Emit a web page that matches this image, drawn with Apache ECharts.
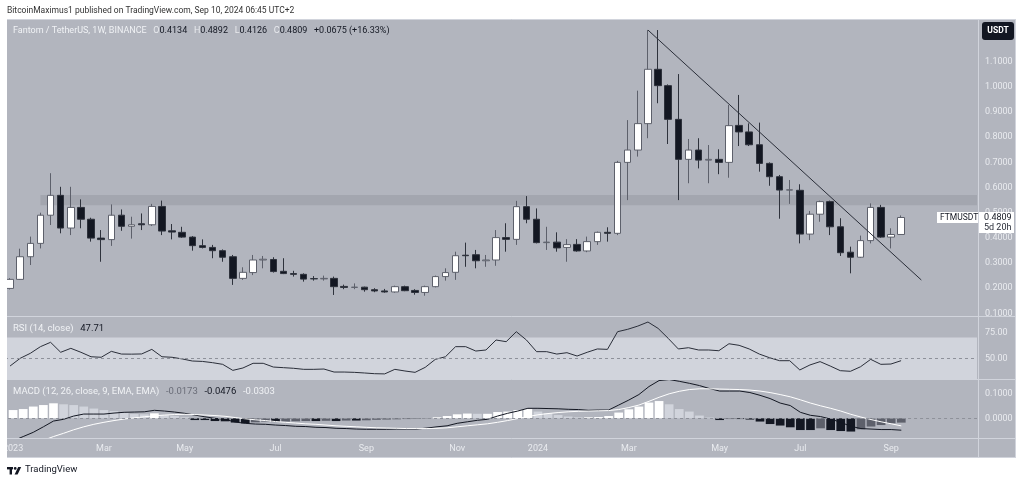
<!DOCTYPE html>
<html><head><meta charset="utf-8">
<script src="https://cdn.jsdelivr.net/npm/echarts@6/dist/echarts.min.js"></script>
<style>html,body{margin:0;padding:0;background:#fff}#c{width:1024px;height:483px}</style>
</head><body><div id="c"></div>
<script>
const weeks = [
'2023-01-02','2023-01-09','2023-01-16','2023-01-23','2023-01-30',
'2023-02-06','2023-02-13','2023-02-20','2023-02-27',
'2023-03-06','2023-03-13','2023-03-20','2023-03-27',
'2023-04-03','2023-04-10','2023-04-17','2023-04-24',
'2023-05-01','2023-05-08','2023-05-15','2023-05-22','2023-05-29',
'2023-06-05','2023-06-12','2023-06-19','2023-06-26',
'2023-07-03','2023-07-10','2023-07-17','2023-07-24','2023-07-31',
'2023-08-07','2023-08-14','2023-08-21','2023-08-28',
'2023-09-04','2023-09-11','2023-09-18','2023-09-25',
'2023-10-02','2023-10-09','2023-10-16','2023-10-23','2023-10-30',
'2023-11-06','2023-11-13','2023-11-20','2023-11-27',
'2023-12-04','2023-12-11','2023-12-18','2023-12-25',
'2024-01-01','2024-01-08','2024-01-15','2024-01-22','2024-01-29',
'2024-02-05','2024-02-12','2024-02-19','2024-02-26',
'2024-03-04','2024-03-11','2024-03-18','2024-03-25',
'2024-04-01','2024-04-08','2024-04-15','2024-04-22','2024-04-29',
'2024-05-06','2024-05-13','2024-05-20','2024-05-27',
'2024-06-03','2024-06-10','2024-06-17','2024-06-24',
'2024-07-01','2024-07-08','2024-07-15','2024-07-22','2024-07-29',
'2024-08-05','2024-08-12','2024-08-19','2024-08-26',
'2024-09-02','2024-09-09',
'2024-09-16','2024-09-23','2024-09-30','2024-10-07','2024-10-14','2024-10-21','2024-10-28'];

const opens = [0.199,0.235,0.325,0.378,0.490,0.569,0.439,0.521,0.474,0.399,
0.393,0.490,0.446,0.456,0.452,0.525,0.428,0.422,0.403,0.369,
0.362,0.349,0.325,0.239,0.262,0.312,0.314,0.267,0.258,0.255,
0.238,0.237,0.239,0.207,0.203,0.204,0.194,0.189,0.185,0.206,
0.191,0.183,0.206,0.246,0.263,0.331,0.333,0.309,0.312,0.401,
0.394,0.524,0.474,0.381,0.383,0.362,0.374,0.348,0.385,0.422,
0.418,0.700,0.749,0.854,1.070,1.005,0.871,0.712,0.749,0.709,
0.712,0.700,0.847,0.821,0.770,0.696,0.643,0.590,0.589,0.415,
0.494,0.544,0.444,0.343,0.323,0.389,0.521,0.403,0.4134];
const closes = [0.235,0.325,0.378,0.490,0.569,0.439,0.521,0.474,0.399,0.393,
0.490,0.446,0.452,0.452,0.525,0.427,0.423,0.403,0.369,0.362,
0.349,0.323,0.239,0.263,0.312,0.315,0.266,0.258,0.255,0.236,
0.237,0.239,0.206,0.203,0.204,0.194,0.189,0.185,0.206,0.190,
0.183,0.206,0.246,0.262,0.329,0.329,0.309,0.312,0.401,0.394,
0.524,0.474,0.381,0.383,0.360,0.373,0.348,0.385,0.422,0.418,
0.700,0.749,0.854,1.070,1.005,0.871,0.712,0.749,0.709,0.712,
0.700,0.846,0.821,0.770,0.696,0.643,0.590,0.591,0.415,0.494,
0.544,0.444,0.341,0.323,0.389,0.521,0.403,0.4134,0.4809];
const lows = [0.195,0.233,0.292,0.358,0.451,0.418,0.411,0.438,0.385,0.305,
0.368,0.428,0.397,0.431,0.447,0.411,0.394,0.400,0.349,0.358,
0.319,0.305,0.213,0.233,0.252,0.279,0.262,0.256,0.246,0.226,
0.230,0.230,0.173,0.196,0.196,0.186,0.184,0.182,0.182,0.188,
0.174,0.170,0.203,0.230,0.233,0.285,0.279,0.285,0.289,0.345,
0.372,0.458,0.378,0.352,0.345,0.305,0.345,0.343,0.372,0.385,
0.411,0.550,0.723,0.796,0.935,0.773,0.550,0.617,0.676,0.617,
0.653,0.639,0.765,0.765,0.663,0.607,0.476,0.535,0.378,0.391,
0.464,0.411,0.328,0.259,0.320,0.378,0.400,0.358,0.4126];
const highs = [0.240,0.357,0.405,0.500,0.657,0.603,0.603,0.553,0.480,0.431,
0.533,0.513,0.484,0.497,0.535,0.548,0.455,0.444,0.407,0.394,
0.372,0.354,0.332,0.283,0.332,0.328,0.323,0.319,0.269,0.259,
0.248,0.250,0.246,0.214,0.219,0.206,0.200,0.197,0.210,0.210,
0.196,0.210,0.250,0.279,0.345,0.381,0.352,0.332,0.431,0.458,
0.547,0.566,0.517,0.444,0.422,0.395,0.395,0.405,0.425,0.442,
0.706,0.868,0.985,1.226,1.226,1.010,1.051,0.793,0.796,0.769,
0.752,0.928,0.968,0.855,0.858,0.700,0.650,0.630,0.613,0.507,
0.548,0.548,0.478,0.365,0.409,0.537,0.531,0.438,0.4892];

const rsi = [42.6,50.0,54.8,61.2,65.4,55.8,59.6,55.8,51.5,51.0,
56.7,54.1,54.0,54.2,58.6,51.5,51.0,49.4,47.4,47.0,
45.8,44.2,38.4,40.7,45.2,45.2,41.6,41.0,40.4,39.4,
39.4,39.7,36.8,36.8,36.5,35.9,35.2,35.0,39.4,37.8,
36.5,41.3,49.0,51.5,61.2,61.2,57.0,58.0,67.6,66.0,
75.6,67.6,56.4,56.4,54.1,55.4,52.2,55.8,59.0,58.6,
75.6,77.9,81.0,84.9,78.8,69.2,59.0,60.2,58.0,58.0,
57.3,64.0,62.5,59.0,54.1,50.6,47.7,47.7,38.8,43.6,
46.8,42.6,38.1,37.5,41.9,49.0,44.2,44.5,47.71];

const macd = [-0.090,-0.073,-0.056,-0.034,-0.011,-0.004,0.009,0.017,0.017,0.017,
0.021,0.024,0.025,0.026,0.032,0.029,0.025,0.020,0.013,0.006,
0.000,-0.004,-0.015,-0.020,-0.023,-0.024,-0.027,-0.029,-0.032,-0.033,
-0.036,-0.037,-0.040,-0.041,-0.043,-0.044,-0.044,-0.044,-0.043,-0.043,
-0.043,-0.039,-0.034,-0.030,-0.020,-0.014,-0.008,-0.004,0.009,0.020,
0.029,0.040,0.040,0.039,0.038,0.036,0.035,0.032,0.033,0.033,
0.053,0.073,0.095,0.127,0.151,0.155,0.148,0.140,0.131,0.119,
0.109,0.109,0.109,0.103,0.092,0.079,0.061,0.051,0.024,0.012,
0.007,-0.003,-0.016,-0.032,-0.041,-0.043,-0.045,-0.045,-0.0476];
const signal = [-0.123,-0.113,-0.102,-0.088,-0.073,-0.060,-0.046,-0.034,-0.024,-0.016,
-0.009,-0.003,0.002,0.006,0.010,0.013,0.015,0.016,0.015,0.013,
0.011,0.008,0.003,-0.002,-0.006,-0.009,-0.013,-0.016,-0.019,-0.022,
-0.024,-0.027,-0.030,-0.032,-0.034,-0.036,-0.038,-0.039,-0.040,-0.041,
-0.041,-0.041,-0.040,-0.038,-0.034,-0.030,-0.026,-0.022,-0.016,-0.009,
-0.001,0.007,0.014,0.019,0.023,0.026,0.028,0.029,0.030,0.031,
0.035,0.043,0.053,0.068,0.084,0.098,0.108,0.115,0.118,0.118,
0.117,0.116,0.115,0.113,0.109,0.103,0.095,0.086,0.074,0.061,
0.050,0.040,0.029,0.016,0.005,-0.005,-0.014,-0.022,-0.0303];
const hist = [0.033,0.037,0.047,0.053,0.060,0.056,0.053,0.047,0.039,0.033,
0.029,0.023,0.017,0.016,0.020,0.013,0.009,0.004,-0.007,-0.007,
-0.011,-0.012,-0.017,-0.020,-0.016,-0.013,-0.015,-0.013,-0.012,-0.011,
-0.011,-0.010,-0.011,-0.009,-0.009,-0.008,-0.006,-0.005,-0.004,-0.003,
-0.002,-0.001,0.004,0.009,0.016,0.019,0.018,0.018,0.025,0.027,
0.033,0.037,0.027,0.020,0.013,0.007,0.004,0.004,0.005,0.009,
0.023,0.036,0.047,0.063,0.069,0.056,0.037,0.027,0.011,0.003,
-0.007,-0.003,-0.003,-0.005,-0.013,-0.023,-0.029,-0.036,-0.047,-0.047,
-0.040,-0.047,-0.051,-0.053,-0.044,-0.033,-0.027,-0.020,-0.0173];

const priceTicks = [0.1,0.2,0.3,0.4,0.5,0.6,0.7,0.8,0.9,1.0,1.1];
const rsiTicks = [50,75];
const macdTicks = [0,0.1];
const timeTickDates = ['2023-01-02','2023-03-06','2023-05-01','2023-07-03','2023-09-04','2023-11-06','2024-01-01','2024-03-04','2024-05-06','2024-07-01','2024-09-02'];
const timeTickLabels = ['2023','Mar','May','Jul','Sep','Nov','2024','Mar','May','Jul','Sep'];
const zoneLow = 0.53, zoneHigh = 0.57, zoneStart = '2023-01-23';
const trendDates = ['2024-03-18','2024-09-23'];
const trendValues = [1.226, 0.2325];
const rsiBand = [30, 70], rsiMid = 50;
const countdown = '5d 20h';

const BG = '#b2b5be', LINE = '#d1d4dc', LBL = '#e9ebef', DARK = '#131722', W = '#ffffff';
const FONT = 'Roboto, "Noto Sans", sans-serif';
const n = closes.length;
const candles = opens.map((o, i) => [o, closes[i], lows[i], highs[i]]);
const histData = hist.map((v, i) => {
  const p = i > 0 ? hist[i - 1] : v;
  let c;
  if (v >= 0) c = v >= p ? '#ffffff' : '#d1d4dc';
  else c = v <= p ? '#131722' : '#5d606b';
  return {value: v, itemStyle: {color: c}};
});
const tickIdx = timeTickDates.map(d => weeks.indexOf(d));
const last = n - 1;
const chg = closes[last] - closes[last - 1];
const chgPct = chg / closes[last - 1] * 100;

const chart = echarts.init(document.getElementById('c'), null, {renderer: 'canvas'});
const gridL = 5, gridW = 972;
const xBase = (gi, showLabels) => ({
  type: 'category', gridIndex: gi, data: weeks, boundaryGap: true,
  axisLine: {show: false}, axisTick: {show: false}, splitLine: {show: false},
  axisLabel: showLabels ? {
    show: true, color: LBL, fontSize: 9, fontFamily: FONT, margin: 6,
    interval: (idx) => tickIdx.indexOf(idx) >= 0,
    formatter: (v, idx) => { const k = tickIdx.indexOf(idx); return k >= 0 ? timeTickLabels[k] : ''; }
  } : {show: false}
});
const yBase = (gi, min, max, ticks, dec) => ({
  type: 'value', gridIndex: gi, position: 'right', min, max, scale: true,
  axisLine: {show: false}, axisTick: {show: false}, splitLine: {show: false},
  axisLabel: {show: true, customValues: ticks, color: LBL, fontSize: 9, fontFamily: FONT, margin: 8,
    formatter: v => Number(v).toFixed(dec)}
});
const hline = (id, y) => ({id, type: 'line', z: 95, silent: true, shape: {x1: 7, y1: y, x2: 1016, y2: y}, style: {stroke: LINE, lineWidth: 1}});
const vline = (id, x) => ({id, type: 'line', z: 95, silent: true, shape: {x1: x, y1: 19, x2: x, y2: 458}, style: {stroke: LINE, lineWidth: 1}});

const option = {
  backgroundColor: BG,
  animation: false,
  textStyle: {fontFamily: FONT},
  grid: [
    {left: gridL, width: gridW, top: 20, height: 296},
    {left: gridL, width: gridW, top: 316, height: 63},
    {left: gridL, width: gridW, top: 379, height: 59.3}
  ],
  xAxis: [xBase(0, false), xBase(1, false), xBase(2, true)],
  yAxis: [
    yBase(0, 0.0894, 1.2659, priceTicks, 4),
    yBase(1, 30.1, 90.7, rsiTicks, 2),
    yBase(2, -0.08, 0.1572, macdTicks, 4)
  ],
  series: [
    {type: 'candlestick', xAxisIndex: 0, yAxisIndex: 0, data: candles, barWidth: 7,
      itemStyle: {color: '#ffffff', color0: '#131722', borderColor: '#5d606b', borderColor0: '#2e323c', borderWidth: 1},
      markArea: {silent: true, itemStyle: {color: '#a3a6af'},
        data: [[{xAxis: zoneStart, yAxis: zoneHigh}, {yAxis: zoneLow}]]},
      z: 3},
    {type: 'line', xAxisIndex: 0, yAxisIndex: 0, data: trendDates.map((d, i) => [d, trendValues[i]]),
      symbol: 'none', lineStyle: {color: '#2a2e39', width: 1}, z: 4, silent: true},
    {type: 'line', xAxisIndex: 1, yAxisIndex: 1, data: rsi, symbol: 'none',
      lineStyle: {color: '#2a2e39', width: 1}, z: 4,
      markArea: {silent: true, itemStyle: {color: '#d1d4dc'}, data: [[{yAxis: rsiBand[1]}, {yAxis: rsiBand[0]}]]},
      markLine: {silent: true, symbol: 'none', label: {show: false},
        lineStyle: {color: '#8e919a', type: [3, 3], width: 1}, data: [{yAxis: rsiMid}]}},
    {type: 'bar', xAxisIndex: 2, yAxisIndex: 2, data: histData, barWidth: '86%', z: 2,
      markLine: {silent: true, symbol: 'none', label: {show: false},
        lineStyle: {color: '#8e919a', type: [3, 3], width: 1}, data: [{yAxis: 0}]}},
    {type: 'line', xAxisIndex: 2, yAxisIndex: 2, data: macd, symbol: 'none',
      lineStyle: {color: '#131722', width: 1}, z: 4},
    {type: 'line', xAxisIndex: 2, yAxisIndex: 2, data: signal, symbol: 'none',
      lineStyle: {color: '#ffffff', width: 1}, z: 4}
  ]
};
chart.setOption(option);

const py = chart.convertToPixel({yAxisIndex: 0}, closes[last]);
const boxTop = Math.round(py - 5.5);

const graphic = [
  {id: 'wTop', type: 'rect', z: 90, silent: true, shape: {x: 0, y: 0, width: 1024, height: 19}, style: {fill: W}},
  {id: 'wBot', type: 'rect', z: 90, silent: true, shape: {x: 0, y: 458, width: 1024, height: 25}, style: {fill: W}},
  {id: 'wLeft', type: 'rect', z: 90, silent: true, shape: {x: 0, y: 0, width: 7, height: 483}, style: {fill: W}},
  {id: 'wRight', type: 'rect', z: 90, silent: true, shape: {x: 1016, y: 0, width: 8, height: 483}, style: {fill: W}},
  hline('h1', 19.5), hline('h2', 316.5), hline('h3', 379.5), hline('h4', 438.5), hline('h5', 457.5),
  vline('v1', 978.5), vline('v2', 1015.5),
  {id: 'hdr', type: 'text', z: 100, left: 7, top: 6, style: {text: 'BitcoinMaximus1 published on TradingView.com, Sep 10, 2024 06:45 UTC+2', fill: '#333333', font: '8.5px ' + FONT}},
  {id: 'leg', type: 'text', z: 100, left: 13, top: 25, style: {
    text: '{n|Fantom / TetherUS, 1W, BINANCE}  {k|O}{v|' + opens[last].toFixed(4) + '}  {k|H}{v|' + highs[last].toFixed(4) + '}  {k|L}{v|' + lows[last].toFixed(4) + '}  {k|C}{v|' + closes[last].toFixed(4) + '}  {v|+' + chg.toFixed(4) + ' (+' + chgPct.toFixed(2) + '%)}',
    rich: {n: {fill: '#f0f2f5', font: '9px ' + FONT}, k: {fill: '#e8eaee', font: '9px ' + FONT}, v: {fill: DARK, font: '9px ' + FONT}}}},
  {id: 'rsiLeg', type: 'text', z: 100, left: 13, top: 323, style: {
    text: '{n|RSI (14, close)}  {v|' + rsi[last].toFixed(2) + '}',
    rich: {n: {fill: '#f0f2f5', font: '9.5px ' + FONT}, v: {fill: DARK, font: '9.5px ' + FONT}}}},
  {id: 'macdLeg', type: 'text', z: 100, left: 13, top: 386, style: {
    text: '{n|MACD (12, 26, close, 9, EMA, EMA)}  {h|' + hist[last].toFixed(4) + '}  {m|' + macd[last].toFixed(4) + '}  {s|' + signal[last].toFixed(4) + '}',
    rich: {n: {fill: '#f0f2f5', font: '9.5px ' + FONT}, h: {fill: '#6a6d78', font: '9.5px ' + FONT}, m: {fill: DARK, font: '9.5px ' + FONT}, s: {fill: '#f0f2f5', font: '9.5px ' + FONT}}}},
  {id: 'usdt', type: 'group', z: 100, left: 982, top: 22, children: [
    {type: 'rect', z: 100, shape: {x: 0, y: 0, width: 32, height: 18, r: 3}, style: {fill: DARK}},
    {type: 'text', z: 101, style: {text: 'USDT', x: 16, y: 9, align: 'center', verticalAlign: 'middle', fill: '#ffffff', font: 'bold 8.5px ' + FONT}}
  ]},
  {id: 'logo', type: 'group', z: 100, left: 7, top: 467, children: [
    {type: 'rect', z: 100, shape: {x: 0, y: 0, width: 6, height: 2.4}, style: {fill: DARK}},
    {type: 'rect', z: 100, shape: {x: 2.6, y: 0, width: 2.4, height: 7.5}, style: {fill: DARK}},
    {type: 'circle', z: 100, shape: {cx: 8.2, cy: 1.4, r: 1.4}, style: {fill: DARK}},
    {type: 'polygon', z: 100, shape: {points: [[11.2, 0], [14.2, 0], [10.6, 7.5], [7.6, 7.5]]}, style: {fill: DARK}}
  ]},
  {id: 'tvtxt', type: 'text', z: 100, left: 25, top: 465, style: {text: 'TradingView', fill: DARK, font: '9.5px ' + FONT}},
  {id: 'tag', type: 'group', z: 100, left: 937, top: boxTop, children: [
    {type: 'rect', z: 100, shape: {x: 0, y: 0, width: 41, height: 11}, style: {fill: '#ffffff'}},
    {type: 'text', z: 101, style: {text: 'FTMUSDT', x: 3, y: 5.5, verticalAlign: 'middle', fill: DARK, font: '8.5px ' + FONT}}
  ]},
  {id: 'pbox', type: 'group', z: 100, left: 979, top: boxTop, children: [
    {type: 'rect', z: 100, shape: {x: 0, y: 0, width: 35, height: 21}, style: {fill: '#ffffff'}},
    {type: 'text', z: 101, style: {text: closes[last].toFixed(4), x: 5, y: 5.5, verticalAlign: 'middle', fill: DARK, font: '9px ' + FONT}},
    {type: 'text', z: 101, style: {text: countdown, x: 5, y: 16, verticalAlign: 'middle', fill: '#2a2e39', font: '9px ' + FONT}}
  ]}
];
chart.setOption({graphic: graphic});
</script></body></html>
